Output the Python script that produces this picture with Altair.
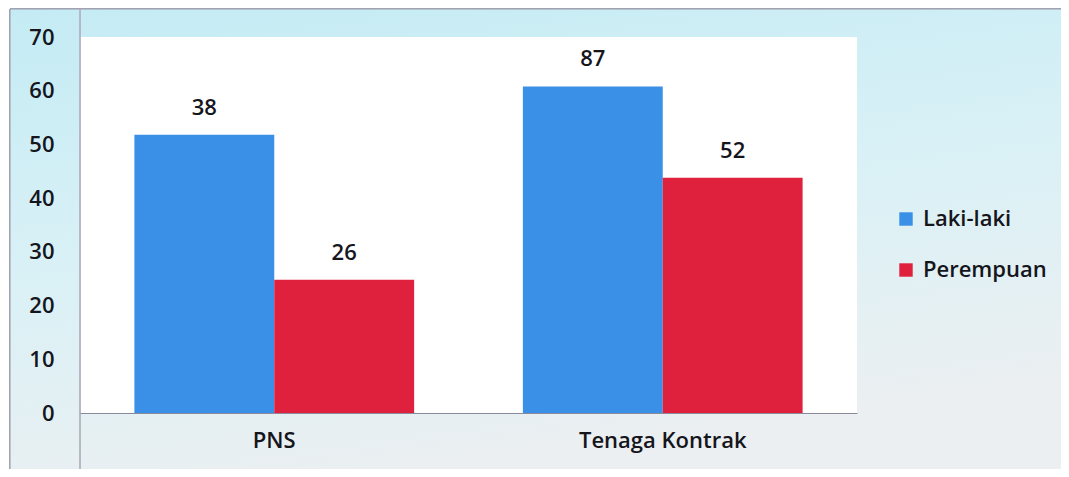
import altair as alt
import pandas as pd

categories = ["PNS", "PNS", "Tenaga Kontrak", "Tenaga Kontrak"]
series = ["Laki-laki", "Perempuan", "Laki-laki", "Perempuan"]
bar_heights = [51.8, 24.8, 60.8, 43.8]
bar_labels = ["38", "26", "87", "52"]

series_order = ["Laki-laki", "Perempuan"]
series_colors = ["#3a8fe6", "#e0213d"]

W, H = 777, 376
FONT = "Open Sans"
FW = 600
FS = 22
TXT = "#15151c"

df = pd.DataFrame({"cat": categories, "ser": series, "h": bar_heights, "lab": bar_labels})

bg = alt.Chart(df).mark_rect(
    fill=alt.LinearGradient(
        gradient="linear", x1=0, y1=0, x2=0.3, y2=1,
        stops=[alt.GradientStop(color="#c4ebf4", offset=0),
               alt.GradientStop(color="#d9f1f6", offset=0.5),
               alt.GradientStop(color="#eceff1", offset=1)]),
    stroke="#9a9aaa", strokeWidth=1
).encode(x=alt.value(-70), x2=alt.value(W + 230), y=alt.value(-28), y2=alt.value(H + 80))

plot_bg = alt.Chart(df).mark_rect(fill="white").encode(
    x=alt.value(0), x2=alt.value(W), y=alt.value(0), y2=alt.value(H))

left_line = alt.Chart(df).mark_rule(color="#b4b4c4", strokeWidth=1).encode(
    x=alt.value(0), y=alt.value(-28), y2=alt.value(H + 60))

xenc = alt.X("cat:N", title=None, sort=["PNS", "Tenaga Kontrak"],
             scale=alt.Scale(paddingInner=0.28, paddingOuter=0.14),
             axis=alt.Axis(labelAngle=0, labelFont=FONT, labelFontSize=FS, labelFontWeight=FW,
                           labelColor=TXT, ticks=False, labelPadding=17, domainColor="#8a8a9a",
                           domainWidth=1.2, zindex=1))
yenc = alt.Y("h:Q", title=None, scale=alt.Scale(domain=[0, 70], nice=False),
             axis=alt.Axis(values=[0, 10, 20, 30, 40, 50, 60, 70], grid=False, ticks=False, domain=False,
                           labelFont=FONT, labelFontSize=FS, labelFontWeight=FW, labelColor=TXT,
                           labelPadding=26, zindex=1))

bars = alt.Chart(df).mark_bar().encode(
    x=xenc, y=yenc,
    xOffset=alt.XOffset("ser:N", sort=series_order),
    color=alt.Color("ser:N", sort=series_order,
                    scale=alt.Scale(domain=series_order, range=series_colors),
                    legend=alt.Legend(title=None, orient="none", legendX=815, legendY=171,
                                      symbolType="square", symbolSize=180, symbolStrokeWidth=0,
                                      labelFont=FONT, labelFontSize=FS, labelFontWeight=FW,
                                      labelColor=TXT, labelOffset=6, rowPadding=29, zindex=1)))

labels = alt.Chart(df).mark_text(font=FONT, fontSize=FS, fontWeight=FW, color=TXT,
                                 baseline="alphabetic", dy=-20).encode(
    x=alt.X("cat:N", sort=["PNS", "Tenaga Kontrak"]),
    xOffset=alt.XOffset("ser:N", sort=series_order),
    y="h:Q", text="lab:N")

chart = alt.layer(bg, plot_bg, left_line, bars, labels).properties(
    width=W, height=H, autosize="none",
    padding={"left": 72, "top": 29, "right": 204, "bottom": 56}
).configure_view(stroke=None).configure(background="white")

chart.save("out.html", embed_options={"renderer": "svg", "actions": False})
